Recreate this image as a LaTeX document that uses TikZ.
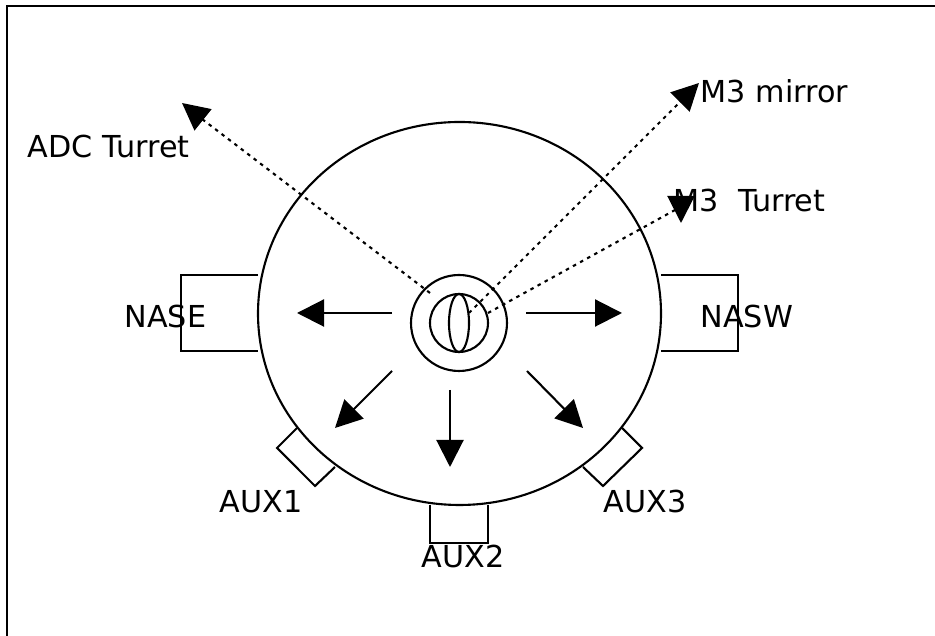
\documentclass[tikz,border=0pt]{standalone}
\usepackage{fontspec}
\setmainfont{DejaVu Sans}
\usetikzlibrary{arrows.meta}
\tikzset{
    line/.style={line width=0.6pt},
    label/.style={anchor=base west, inner sep=0pt, font=\fontsize{8.6}{10}\selectfont},
    flow/.style={line, -{Triangle[length=2.7mm,width=2.7mm]}},
    sight/.style={line, dash pattern=on 1pt off 1.3pt},
}
\begin{document}
\begin{tikzpicture}[y=-1cm]
    \useasboundingbox (0, 0) rectangle (9.35, 6.36);

    % frame
    \draw[line width=0.8pt] (0.07, 6.36) -- (0.07, 0.06) -- (9.35, 0.06);

    % dome and instrument ports
    \draw[line] (4.595, 3.135) ellipse (2.015 and 1.915);
    \draw[line] (2.58, 2.75) -- (1.81, 2.75) -- (1.81, 3.51) -- (2.58, 3.51);
    \draw[line] (6.61, 2.75) -- (7.38, 2.75) -- (7.38, 3.51) -- (6.61, 3.51);
    \draw[line] (2.97, 4.28) -- (2.77, 4.48) -- (3.15, 4.86) -- (3.35, 4.67);
    \draw[line] (4.30, 5.05) -- (4.30, 5.43) -- (4.88, 5.43) -- (4.88, 5.05);
    \draw[line] (6.22, 4.28) -- (6.42, 4.48) -- (6.03, 4.86) -- (5.83, 4.67);

    % tertiary mirror
    \draw[line] (4.59, 3.23) circle (0.48);
    \draw[line] (4.59, 3.23) circle (0.29);
    \draw[line] (4.59, 3.23) ellipse (0.10 and 0.29);

    \coordinate (W0) at (3.92, 3.13);
    \coordinate (W1) at (2.97, 3.13);
    \coordinate (E0) at (5.26, 3.13);
    \coordinate (E1) at (6.22, 3.13);
    \coordinate (SW0) at (3.92, 3.71);
    \coordinate (SW1) at (3.35, 4.28);
    \coordinate (S0) at (4.50, 3.90);
    \coordinate (S1) at (4.50, 4.67);
    \coordinate (SE0) at (5.27, 3.71);
    \coordinate (SE1) at (5.83, 4.28);

    \draw[flow] (W0) to (W1);
    \draw[flow] (E0) to (E1);
    \draw[flow] (SW0) to (SW1);
    \draw[flow] (S0) to (S1);
    \draw[flow] (SE0) to (SE1);

    \coordinate (ADC0) at (4.30, 2.93);
    \coordinate (ADC1) at (2.02, 1.19);
    \coordinate (ADC2) at (1.82, 1.03);
    \coordinate (MIR0) at (4.69, 3.13);
    \coordinate (MIR1) at (6.80, 1.02);
    \coordinate (MIR2) at (6.99, 0.83);
    \coordinate (TUR0) at (4.88, 3.13);
    \coordinate (TUR1) at (6.75, 2.10);
    \coordinate (TURa) at (6.81, 1.96);
    \coordinate (TURb) at (6.81, 2.23);

    \draw[sight] (ADC0) to (ADC1);
    \draw[sight] (MIR0) to (MIR1);
    \draw[sight] (TUR0) to (TUR1);
    \draw[flow] (ADC1) to (ADC2);
    \draw[flow] (MIR1) to (MIR2);
    \draw[flow] (TURa) to (TURb);

    \node[label] (ADC) at (0.27, 1.58) {ADC Turret};
    \node[label] (MIR) at (7.00, 1.03) {M3 mirror};
    \node[label] (TUR) at (6.73, 2.12) {M3 \ Turret};
    \node[label] (NASE) at (1.24, 3.28) {NASE};
    \node[label] (NASW) at (7.00, 3.28) {NASW};
    \node[label] (AUX1) at (2.19, 5.13) {AUX1};
    \node[label] (AUX2) at (4.21, 5.68) {AUX2};
    \node[label] (AUX3) at (6.03, 5.13) {AUX3};
\end{tikzpicture}
\end{document}
